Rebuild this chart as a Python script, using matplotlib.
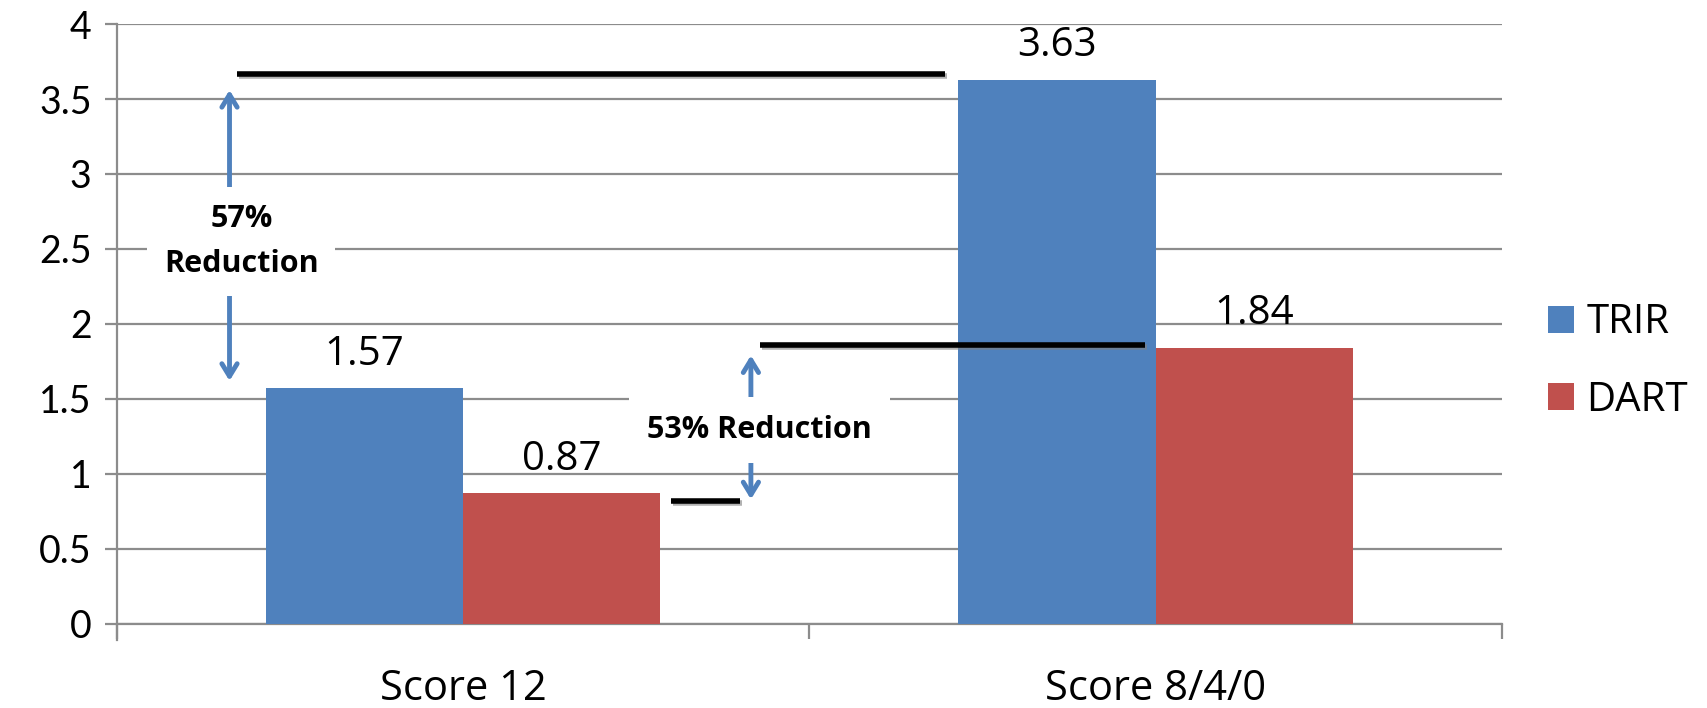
import matplotlib
matplotlib.use('Agg')
import matplotlib.pyplot as plt
import matplotlib.patheffects as pe
import numpy as np

plt.rcParams['font.family'] = ['Open Sans', 'DejaVu Sans']

categories = ["Score 12", "Score 8/4/0"]
series = ["TRIR", "DART"]
trir = [1.57, 3.63]
dart = [0.87, 1.84]
colors = ["#4F81BD", "#C0504D"]

# reduction brackets: (label, top level, bottom level)
big_drop = ("57%\nReduction", 3.67, 1.57)
small_drop = ("53% Reduction", 1.86, 0.82)

grid_col = "#8c8c8c"
bar_w = 0.285

fig = plt.figure(figsize=(17.07, 7.08), dpi=100)
ax = fig.add_axes([0.0683, 0.119, 0.8117, 0.847])

x = np.arange(len(categories))
b1 = ax.bar(x - bar_w / 2, trir, bar_w, color=colors[0], label=series[0], zorder=3)
b2 = ax.bar(x + bar_w / 2, dart, bar_w, color=colors[1], label=series[1], zorder=3)

for bars, vals in ((b1, trir), (b2, dart)):
    for rect, v in zip(bars, vals):
        ax.annotate(f"{v:.2f}", (rect.get_x() + rect.get_width() / 2, v),
                    xytext=(0, 17), textcoords="offset points",
                    ha="center", va="baseline", fontsize=29, zorder=6)

ax.set_xlim(-0.5, 1.5)
ax.set_ylim(0, 4)
ax.set_yticks(np.arange(0, 4.01, 0.5))
ax.set_yticklabels(["0", "0.5", "1", "1.5", "2", "2.5", "3", "3.5", "4"],
                   family="Lato")
ax.yaxis.grid(True, color=grid_col, linewidth=1.6, zorder=0)
ax.set_axisbelow(True)

ax.set_xticks([-0.5, 0.5, 1.5])
ax.set_xticklabels([])
ax.set_xticks(x, minor=True)
ax.set_xticklabels(categories, minor=True)
ax.tick_params(axis="x", which="major", length=11, width=1.6, color=grid_col)
ax.tick_params(axis="x", which="minor", length=0, pad=32, labelsize=30)
ax.tick_params(axis="y", length=9, width=1.6, color=grid_col, pad=9, labelsize=27)

for s in ("top", "right"):
    ax.spines[s].set_visible(False)
for s in ("left", "bottom"):
    ax.spines[s].set_color(grid_col)
    ax.spines[s].set_linewidth(1.6)
ax.spines["left"].set_bounds(-0.11, 4)

shadow = [pe.SimpleLineShadow(offset=(1.5, -1.5), shadow_color="gray", alpha=0.6),
          pe.Normal()]
arrow_col = "#4F81BD"
arrow_style = "<->,head_length=0.9,head_width=0.55"

# 57% bracket
ax.plot([-0.326, 0.696], [big_drop[1], big_drop[1]], color="black", lw=4,
        solid_capstyle="butt", zorder=5, path_effects=shadow)
ax.annotate("", xy=(-0.337, 3.56), xytext=(-0.337, 1.62),
            arrowprops=dict(arrowstyle=arrow_style, color=arrow_col, lw=3.5,
                            shrinkA=0, shrinkB=0), zorder=4)
ax.text(-0.32, 2.55, big_drop[0], ha="center", va="center", fontsize=22,
        fontweight="bold", linespacing=1.65, zorder=5,
        bbox=dict(facecolor="white", edgecolor="none", pad=12))

# 53% bracket
ax.plot([0.429, 0.985], [small_drop[1], small_drop[1]], color="black", lw=4,
        solid_capstyle="butt", zorder=5, path_effects=shadow)
ax.plot([0.30, 0.40], [small_drop[2], small_drop[2]], color="black", lw=4,
        solid_capstyle="butt", zorder=5, path_effects=shadow)
ax.annotate("", xy=(0.4156, 1.79), xytext=(0.4156, 0.83),
            arrowprops=dict(arrowstyle=arrow_style, color=arrow_col, lw=3.5,
                            shrinkA=0, shrinkB=0), zorder=4)
ax.text(0.428, 1.29, small_drop[0], ha="center", va="center", fontsize=22,
        fontweight="bold", zorder=5,
        bbox=dict(facecolor="white", edgecolor="none", pad=13))

fig.legend(handles=[b1, b2], labels=series, loc="center left",
           bbox_to_anchor=(1548 / 1707, 1 - 362 / 708), frameon=False,
           fontsize=29, handlelength=0.65, handleheight=0.65,
           handletextpad=0.3, labelspacing=0.92, borderpad=0, borderaxespad=0)

fig.savefig("out.png", dpi=100)
